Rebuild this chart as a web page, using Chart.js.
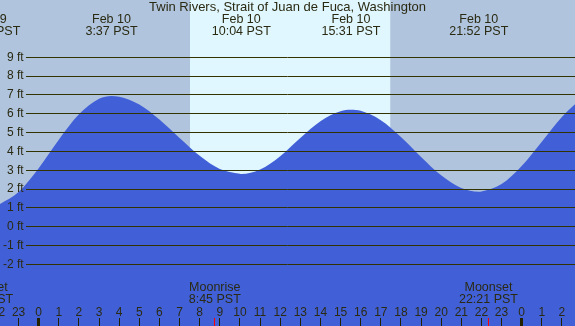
<!DOCTYPE html>
<html>
<head>
<meta charset="utf-8">
<script src="https://cdn.jsdelivr.net/npm/chart.js@4.4.1/dist/chart.umd.min.js"></script>
<style>
  html, body { margin: 0; padding: 0; background: #b0c4de; }
  canvas { display: block; }
</style>
</head>
<body>
<canvas id="tideChart" width="575" height="326"></canvas>
<script>
// hours counted from Feb 10 00:00 PST, heights in ft
const hours = [-2, -1, 0, 1, 2, 3, 3.617, 4, 5, 6, 7, 8, 9, 10, 10.067, 11, 12, 13, 14, 15, 15.517,
    16, 17, 18, 19, 20, 21, 21.867, 22, 23, 24, 25, 26, 27];
const heights = [1.16, 1.85, 3.11, 4.62, 5.97, 6.80, 6.95, 6.91, 6.50, 5.70, 4.72, 3.77, 3.07, 2.81, 2.80,
    3.04, 3.75, 4.72, 5.61, 6.14, 6.22, 6.16, 5.66, 4.77, 3.71, 2.73, 2.06, 1.86, 1.87, 2.27, 3.23, 4.52, 5.83, 6.86];

const hourTicks = [-2, -1, 0, 1, 2, 3, 4, 5, 6, 7, 8, 9, 10, 11, 12, 13, 14, 15, 16, 17, 18, 19, 20,
    21, 22, 23, 24, 25, 26];
const feetTicks = [-2, -1, 0, 1, 2, 3, 4, 5, 6, 7, 8, 9];

const tideTimes = [-2.383, 3.617, 10.067, 15.517, 21.867];
const tideDates = ["Feb 9", "Feb 10", "Feb 10", "Feb 10", "Feb 10"];
const tideLabels = ["21:37 PST", "3:37 PST", "10:04 PST", "15:31 PST", "21:52 PST"];

const moonTimes = [-2.733, 8.75, 22.35];
const moonNames = ["Moonset", "Moonrise", "Moonset"];
const moonLabels = ["21:16 PST", "8:45 PST", "22:21 PST"];

const daylight = [7.52, 17.47]; // sunrise, sunset

const TEXT = "#2a2a12";
const LINE = "#333300";
const FONT = '"Liberation Sans", Arial, sans-serif';

Chart.defaults.font.family = FONT;
Chart.defaults.font.size = 12;

// grid lines begin just right of the "ft" labels
function gridColor(c) {
    const w = c.chart.width;
    const g = c.chart.ctx.createLinearGradient(0, 0, w, 0);
    g.addColorStop(0, "rgba(0,0,0,0)");
    g.addColorStop(26 / w, "rgba(0,0,0,0)");
    g.addColorStop(26 / w, LINE);
    g.addColorStop(1, LINE);
    return g;
}

// axes sit on top of the plot, they take no room
function noRoom(scale) {
    if (scale.isHorizontal()) scale.height = 0;
    else scale.width = 0;
    scale.paddingTop = 0;
    scale.paddingBottom = 0;
    scale.paddingLeft = 0;
    scale.paddingRight = 0;
}

const skyPlugin = {
    id: "sky",
    beforeDraw(chart) {
        const { ctx, width, height } = chart;
        const x = chart.scales.x;
        const x1 = x.getPixelForValue(daylight[0]);
        const x2 = x.getPixelForValue(daylight[1]);
        ctx.save();
        ctx.fillStyle = "#b0c4de";
        ctx.fillRect(0, 0, width, height);
        ctx.fillStyle = "#e0f7ff";
        ctx.fillRect(x1, 0, x2 - x1, height);
        ctx.restore();
    },
};

const textPlugin = {
    id: "texts",
    afterDraw(chart) {
        const { ctx } = chart;
        const x = chart.scales.x;
        ctx.save();
        ctx.fillStyle = TEXT;
        ctx.textAlign = "center";
        ctx.textBaseline = "middle";
        ctx.font = "13px " + FONT;
        ctx.fillText("Twin Rivers, Strait of Juan de Fuca, Washington", chart.width / 2, 7.5);
        ctx.font = "12.5px " + FONT;
        tideTimes.forEach((t, i) => {
            const px = x.getPixelForValue(t);
            ctx.fillText(tideDates[i], px, 19.5);
            ctx.fillText(tideLabels[i], px, 31.5);
        });
        moonTimes.forEach((t, i) => {
            const px = x.getPixelForValue(t);
            ctx.fillText(moonNames[i], px, 287.5);
            ctx.fillText(moonLabels[i], px, 299.5);
        });
        ctx.restore();
    },
};

new Chart(document.getElementById("tideChart"), {
    type: "line",
    data: {
        datasets: [
            {
                data: hours.map((h, i) => ({ x: h, y: heights[i] })),
                fill: "start",
                backgroundColor: "#4160d8",
                borderWidth: 0,
                pointRadius: 0,
                cubicInterpolationMode: "monotone",
            },
        ],
    },
    options: {
        responsive: false,
        animation: false,
        devicePixelRatio: 1,
        layout: { padding: 0 },
        plugins: {
            legend: { display: false },
            tooltip: { enabled: false },
        },
        scales: {
            x: {
                type: "linear",
                position: "bottom",
                min: -1.923,
                max: 26.65,
                bounds: "data",
                afterBuildTicks: (scale) => {
                    scale.ticks = hourTicks.concat(moonTimes)
                        .sort((a, b) => a - b)
                        .map((v) => ({ value: v }));
                },
                afterFit: noRoom,
                border: { display: false },
                grid: {
                    z: 1,
                    drawOnChartArea: false,
                    drawTicks: true,
                    tickLength: -8,
                    color: (c) => (moonTimes.includes(c.tick.value) ? "#ff0000" : "#222200"),
                    lineWidth: (c) => (c.tick.value % 24 === 0 ? 3 : 1),
                },
                ticks: {
                    z: 1,
                    mirror: true,
                    padding: 6,
                    autoSkip: false,
                    maxRotation: 0,
                    minRotation: 0,
                    color: TEXT,
                    callback: (v) => (Number.isInteger(v) ? String((v + 24) % 24) : ""),
                },
            },
            y: {
                position: "left",
                min: -5.28,
                max: 12.05,
                afterBuildTicks: (scale) => {
                    scale.ticks = feetTicks.map((v) => ({ value: v }));
                },
                afterFit: noRoom,
                border: { display: false },
                grid: {
                    z: 1,
                    drawTicks: false,
                    color: gridColor,
                    lineWidth: 1,
                },
                ticks: {
                    z: 1,
                    mirror: true,
                    crossAlign: "far",
                    padding: 3,
                    color: TEXT,
                    callback: (v) => v + " ft",
                },
            },
        },
    },
    plugins: [skyPlugin, textPlugin],
});
</script>
</body>
</html>
